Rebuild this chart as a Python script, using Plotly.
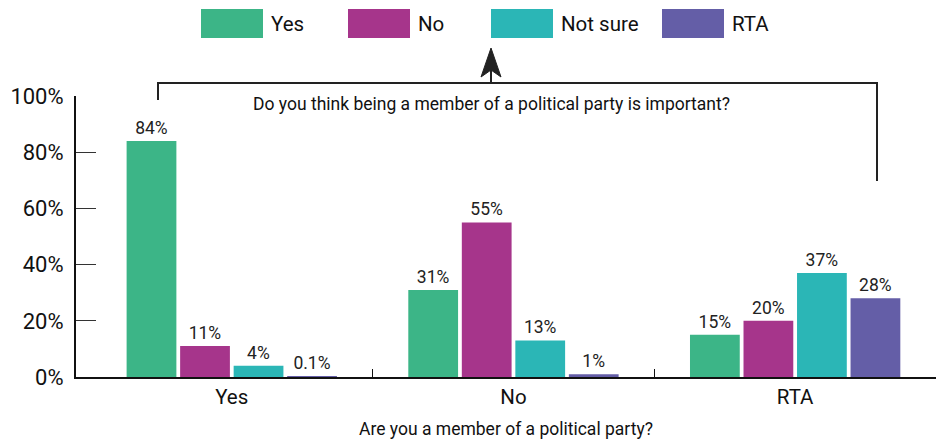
import plotly.graph_objects as go

categories = ["Yes", "No", "RTA"]
series_names = ["Yes", "No", "Not sure", "RTA"]
values_yes = [84, 31, 15]
values_no = [11, 55, 20]
values_not_sure = [4, 13, 37]
values_rta = [0.1, 1, 28]
y_tick_vals = [0, 20, 40, 60, 80, 100]
y_tick_text = ["0%", "20%", "40%", "60%", "80%", "100%"]
x_title = "Are you a member of a political party?"
question = "Do you think being a member of a political party is important?"

colors = ["#3cb587", "#a6358b", "#2bb6b6", "#645ea7"]
series_values = [values_yes, values_no, values_not_sure, values_rta]

FONT = "Roboto, sans-serif"
W, H = 936, 443
L, R, T, B = 76, 936, 96, 377


def px(x):
    return (x - L) / (R - L)


def py(y):
    return (B - y) / (B - T)


def fmt(v):
    return f"{v:g}%"


xpos = list(range(len(categories)))
fig = go.Figure()
for name, vals, col in zip(series_names, series_values, colors):
    fig.add_trace(go.Bar(
        x=xpos, y=vals, name=name, marker=dict(color=col, line=dict(width=0)),
        text=[fmt(v) for v in vals], textposition="outside",
        textfont=dict(family=FONT, size=17.5, color="#222"),
        cliponaxis=False, showlegend=False, hoverinfo="skip",
    ))

shapes = []
annotations = []
# custom legend
sw_x = [201, 348, 491, 662]
for name, col, x0 in zip(series_names, colors, sw_x):
    shapes.append(dict(type="rect", xref="paper", yref="paper",
                       x0=px(x0), x1=px(x0 + 62), y0=py(38), y1=py(9),
                       fillcolor=col, line=dict(width=0)))
    annotations.append(dict(xref="paper", yref="paper", x=px(x0 + 68), y=py(24),
                            text=name, showarrow=False, xanchor="left", yanchor="middle",
                            font=dict(family=FONT, size=20.5, color="#111")))

# bracket
line = dict(color="#222", width=2)
shapes.append(dict(type="path", xref="paper", yref="paper",
                   path=f"M {px(158)} {py(100)} L {px(158)} {py(83)} L {px(877)} {py(83)} L {px(877)} {py(181)}",
                   line=line))
shapes.append(dict(type="line", xref="paper", yref="paper",
                   x0=px(491), x1=px(491), y0=py(83), y1=py(70), line=line))
shapes.append(dict(type="path", xref="paper", yref="paper",
                   path=f"M {px(491)} {py(48)} L {px(501)} {py(77)} L {px(491)} {py(70)} L {px(481)} {py(77)} Z",
                   fillcolor="#222", line=dict(color="#222", width=1)))
annotations.append(dict(xref="paper", yref="paper", x=px(491), y=py(104), text=question,
                        showarrow=False, xanchor="center", yanchor="middle",
                        font=dict(family=FONT, size=17.5, color="#111")))

fig.update_layout(
    width=W, height=H,
    margin=dict(l=L, r=W - R, t=T, b=H - B),
    plot_bgcolor="white", paper_bgcolor="white",
    barmode="group", bargap=0.24, bargroupgap=0.07,
    shapes=shapes, annotations=annotations,
    font=dict(family=FONT, color="#111"),
    xaxis=dict(range=[-0.553, 2.5], tickvals=xpos, ticktext=categories,
               ticks="", showgrid=False, zeroline=False,
               showline=True, linecolor="#111", linewidth=2,
               tickfont=dict(family=FONT, size=20.5, color="#111"),
               minor=dict(tickvals=[0.5, 1.5], ticks="inside", ticklen=8,
                          tickcolor="#111", tickwidth=1, showgrid=False),
               title=dict(text=x_title, font=dict(family=FONT, size=17.5, color="#111"), standoff=15)),
    yaxis=dict(range=[0, 100], tickvals=y_tick_vals, ticktext=y_tick_text,
               ticks="inside", ticklen=20, tickcolor="#333", tickwidth=1,
               showgrid=False, zeroline=False, showline=True, linecolor="#111", linewidth=2,
               ticklabelstandoff=6,
               tickfont=dict(family=FONT, size=22, color="#111")),
)

fig.write_html("out.html", config={"displayModeBar": False},
               post_script="document.body.style.margin='0';document.body.style.padding='0';")
